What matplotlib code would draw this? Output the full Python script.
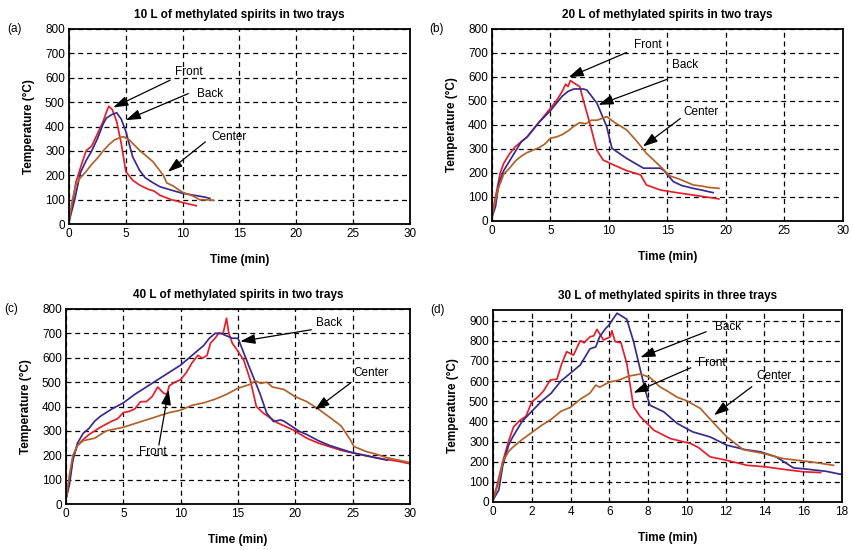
"""Fire test temperatures for methylated spirits trays (four panels)."""

import matplotlib

matplotlib.use("Agg")
import matplotlib.pyplot as plt

plt.rcParams["font.family"] = ["Liberation Sans", "DejaVu Sans"]

RED = "#e41e2b"
BLUE = "#3b2a8c"
BROWN = "#b0622a"

# (a) 10 L in two trays
a_front_t = [0, 0.3, 0.6, 1.0, 1.5, 2.0, 2.5, 3.0, 3.3, 3.5, 3.8, 4.2, 4.6, 5.0, 5.6, 6.2, 7.0, 7.5, 8.0, 9.0, 10.0, 11.2]
a_front_v = [10, 80, 170, 230, 300, 320, 370, 420, 460, 483, 470, 420, 330, 215, 180, 160, 142, 135, 118, 100, 88, 75]
a_back_t = [0, 0.5, 1.0, 1.5, 2.0, 2.5, 3.0, 3.3, 3.8, 4.2, 4.6, 5.0, 5.6, 6.2, 6.7, 7.4, 8.0, 9.0, 10.0, 11.0, 12.0, 12.4]
a_back_v = [10, 100, 210, 260, 300, 350, 410, 435, 450, 456, 430, 380, 276, 221, 190, 169, 153, 139, 126, 118, 110, 105]
a_center_t = [0, 0.3, 0.6, 1.0, 1.5, 2.0, 2.5, 3.0, 3.5, 4.0, 4.5, 4.8, 5.3, 6.2, 7.4, 8.3, 8.6, 9.2, 10.0, 10.9, 11.5, 12.7]
a_center_v = [10, 100, 160, 190, 215, 245, 270, 300, 325, 345, 355, 358, 345, 303, 255, 200, 169, 155, 130, 115, 100, 98]

# (b) 20 L in two trays
b_front_t = [0, 0.3, 0.7, 1.0, 1.5, 2.0, 2.5, 3.0, 3.5, 4.0, 4.5, 5.0, 5.5, 6.0, 6.3, 6.5, 6.7, 7.0, 7.5, 7.8, 8.4, 8.95, 9.5, 10.1, 11.5, 12.7, 13.2, 14.4, 15.8, 17.2, 18.3, 19.4]
b_front_v = [20, 100, 200, 240, 280, 310, 330, 350, 380, 410, 440, 470, 500, 540, 570, 560, 585, 575, 560, 505, 400, 296, 254, 240, 210, 192, 150, 129, 118, 108, 100, 92]
b_back_t = [0, 0.3, 0.6, 1.0, 1.5, 2.0, 2.5, 3.0, 3.5, 4.0, 5.0, 5.5, 6.0, 6.5, 7.0, 7.8, 8.1, 8.97, 9.8, 10.25, 11.5, 12.95, 14.4, 14.7, 15.5, 16.2, 17.2, 18.0, 18.9]
b_back_v = [15, 60, 160, 210, 250, 290, 330, 350, 380, 410, 460, 490, 520, 540, 550, 550, 546, 491, 394, 303, 261, 220, 220, 210, 164, 148, 136, 128, 118]
b_center_t = [0, 0.5, 1.0, 1.5, 2.0, 2.5, 3.0, 3.5, 4.0, 4.5, 5.0, 5.5, 6.0, 6.5, 7.0, 7.5, 8.0, 8.5, 9.0, 9.8, 10.5, 11.5, 12.4, 13.2, 14.4, 15.2, 16.0, 17.2, 18.0, 18.5, 19.4]
b_center_v = [20, 130, 195, 220, 250, 270, 285, 295, 305, 320, 345, 350, 360, 375, 395, 410, 405, 420, 420, 435, 410, 380, 331, 282, 227, 188, 175, 150, 145, 140, 136]

# (c) 40 L in two trays
c_front_t = [0, 0.3, 0.6, 1.0, 1.5, 2.0, 2.5, 3.0, 4.0, 4.5, 5.0, 5.5, 6.0, 6.5, 7.0, 7.5, 8.0, 8.5, 8.8, 9.0, 9.5, 10.0, 10.5, 11.0, 11.5, 11.9, 12.3, 12.6, 13.0, 13.3, 13.7, 14.0, 14.2, 14.5, 14.9, 15.5, 16.06, 16.6, 17.2, 18.4, 19.8, 21.0, 22.0, 23.0, 24.0, 25.0, 26.0, 27.0, 28.0, 29.0, 30.0]
c_front_v = [20, 100, 190, 240, 265, 285, 300, 315, 340, 350, 375, 380, 390, 420, 420, 440, 480, 455, 450, 485, 500, 510, 540, 580, 610, 598, 610, 660, 680, 700, 700, 762, 700, 660, 633, 590, 510, 400, 373, 334, 304, 270, 250, 235, 220, 210, 200, 190, 182, 175, 165]
c_back_t = [0, 0.3, 0.6, 1.0, 1.5, 2.0, 2.5, 3.0, 4.0, 5.0, 6.0, 7.0, 8.0, 9.0, 10.0, 11.0, 12.0, 12.5, 13.0, 13.5, 14.0, 14.5, 15.0, 15.5, 16.0, 16.9, 17.5, 18.1, 18.7, 19.0, 20.4, 21.0, 22.0, 23.0, 24.0, 25.0, 26.0, 27.0, 28.0]
c_back_v = [20, 80, 180, 250, 290, 310, 340, 360, 390, 415, 450, 480, 510, 540, 570, 610, 650, 680, 700, 700, 690, 680, 680, 620, 560, 455, 373, 338, 345, 340, 297, 285, 260, 240, 225, 210, 200, 190, 180]
c_center_t = [0, 0.3, 0.6, 1.0, 1.5, 2.0, 2.5, 3.0, 3.5, 4.0, 5.0, 6.0, 7.0, 8.0, 9.0, 10.0, 11.0, 12.0, 13.0, 14.0, 15.0, 16.0, 16.5, 17.0, 17.5, 18.0, 19.0, 20.0, 21.0, 22.0, 23.3, 24.0, 24.8, 25.1, 26.2, 27.0, 28.0, 29.0, 30.0]
c_center_v = [20, 120, 200, 240, 260, 265, 270, 285, 300, 305, 315, 330, 345, 360, 375, 385, 405, 415, 430, 450, 475, 490, 505, 495, 500, 480, 470, 440, 420, 390, 345, 320, 263, 236, 215, 205, 190, 180, 170]

# (d) 30 L in three trays
d_front_t = [0, 0.2, 0.5, 0.8, 1.06, 1.4, 1.7, 2.0, 2.3, 2.6, 2.95, 3.3, 3.55, 3.8, 4.15, 4.5, 4.7, 5.0, 5.2, 5.36, 5.7, 6.05, 6.13, 6.3, 6.6, 6.9, 7.25, 7.6, 8.3, 9.14, 10.2, 10.6, 11.2, 12.06, 13.1, 14.0, 15.0, 16.0, 16.9]
d_front_v = [10, 80, 200, 300, 373, 406, 425, 497, 520, 550, 605, 610, 688, 746, 729, 801, 790, 820, 825, 857, 804, 820, 850, 796, 790, 688, 472, 423, 356, 315, 290, 270, 224, 207, 182, 175, 162, 150, 146]
d_back_t = [0, 0.3, 0.5, 0.8, 1.0, 1.5, 2.0, 2.5, 3.0, 3.5, 4.0, 4.5, 5.0, 5.3, 5.5, 5.8, 6.0, 6.2, 6.4, 6.9, 7.25, 7.6, 7.9, 8.1, 8.8, 9.5, 10.3, 11.2, 12.06, 13.0, 13.8, 14.6, 15.0, 15.5, 16.0, 17.2, 17.9, 18.0]
d_back_v = [10, 60, 180, 280, 320, 400, 450, 500, 540, 600, 640, 680, 760, 770, 820, 860, 880, 910, 937, 907, 796, 655, 539, 480, 448, 390, 348, 323, 282, 260, 249, 224, 200, 169, 165, 152, 138, 138]
d_center_t = [0, 0.3, 0.5, 0.8, 1.0, 1.5, 2.0, 2.5, 3.0, 3.5, 4.0, 4.5, 5.0, 5.3, 5.5, 6.0, 6.5, 7.0, 7.6, 8.1, 8.6, 9.0, 9.5, 10.0, 10.7, 11.4, 12.06, 12.9, 14.0, 14.6, 15.0, 16.4, 17.56]
d_center_v = [10, 100, 200, 250, 270, 310, 345, 380, 410, 450, 470, 510, 540, 580, 570, 595, 605, 625, 635, 618, 572, 550, 520, 502, 464, 390, 323, 260, 240, 224, 215, 199, 182]

titles = [
    "10 L of methylated spirits in two trays",
    "20 L of methylated spirits in two trays",
    "40 L of methylated spirits in two trays",
    "30 L of methylated spirits in three trays",
]
panel_tags = ["(a)", "(b)", "(c)", "(d)"]

# axes rectangles in figure fraction (left, bottom, width, height)
rects = [
    (0.0808, 0.5927, 0.3992, 0.3546),
    (0.5761, 0.5982, 0.4110, 0.3491),
    (0.0773, 0.0836, 0.4028, 0.3546),
    (0.5773, 0.0873, 0.4086, 0.3491),
]

# (text, text_xy, arrow_start, arrow_tip) in data coords
notes = [
    [("Front", (10.5, 624), (8.9, 590), (3.9, 478)),
     ("Back", (12.4, 535), (10.5, 535), (5.0, 426)),
     ("Center", (14.1, 358), (12.0, 337), (8.7, 214))],
    [("Front", (13.3, 734), (11.5, 702), (6.55, 599)),
     ("Back", (16.5, 650), (14.95, 590), (9.1, 484)),
     ("Center", (17.9, 456), (16.1, 427), (12.9, 310))],
    [("Back", (22.9, 742), (21.4, 715), (15.2, 667)),
     ("Center", (26.6, 537), (24.8, 496), (21.7, 386)),
     ("Front", (7.6, 215), (8.1, 242), (8.95, 468))],
    [("Back", (12.1, 870), (11.0, 845), (7.6, 718)),
     ("Front", (11.3, 688), (10.2, 666), (7.25, 542)),
     ("Center", (14.5, 625), (13.35, 572), (11.4, 431))],
]

series = [
    [(a_front_t, a_front_v, RED), (a_back_t, a_back_v, BLUE), (a_center_t, a_center_v, BROWN)],
    [(b_front_t, b_front_v, RED), (b_back_t, b_back_v, BLUE), (b_center_t, b_center_v, BROWN)],
    [(c_front_t, c_front_v, RED), (c_back_t, c_back_v, BLUE), (c_center_t, c_center_v, BROWN)],
    [(d_front_t, d_front_v, RED), (d_back_t, d_back_v, BLUE), (d_center_t, d_center_v, BROWN)],
]

fig = plt.figure(figsize=(8.54, 5.5), dpi=100)

for i in range(4):
    ax = fig.add_axes(rects[i])
    for t, v, col in series[i]:
        ax.plot(t, v, color=col, lw=1.25)
    if i < 3:
        ax.set_xlim(0, 30)
        ax.set_xticks(range(0, 31, 5))
        ax.set_ylim(0, 800)
        ax.set_yticks(range(0, 801, 100))
    else:
        ax.set_xlim(0, 18)
        ax.set_xticks(range(0, 19, 2))
        ax.set_ylim(0, 953)
        ax.set_yticks(range(0, 901, 100))
    ax.grid(True, color="black", linestyle=(0, (4, 3)), lw=0.9)
    ax.tick_params(length=0, pad=3, labelsize=8.5)
    for s in ax.spines.values():
        s.set_linewidth(1.3)
    ax.set_xlabel("Time (min)", fontsize=8.5, fontweight="bold", labelpad=10)
    ax.set_ylabel("Temperature (\u00b0C)", fontsize=8.5, fontweight="bold", labelpad=7)
    ax.set_title(titles[i], fontsize=8.5, fontweight="bold", pad=8)
    ax.text(-0.18, 1.0, panel_tags[i], transform=ax.transAxes, fontsize=8.5, va="center", ha="left")
    for label, txy, start, tip in notes[i]:
        ax.text(txy[0], txy[1], label, fontsize=8.5, ha="center", va="center")
        ax.annotate("", xy=tip, xytext=start,
                    arrowprops=dict(arrowstyle="-|>,head_length=0.9,head_width=0.3",
                                    color="black", lw=0.9, shrinkA=0, shrinkB=0))

fig.savefig("out.png", dpi=100)
